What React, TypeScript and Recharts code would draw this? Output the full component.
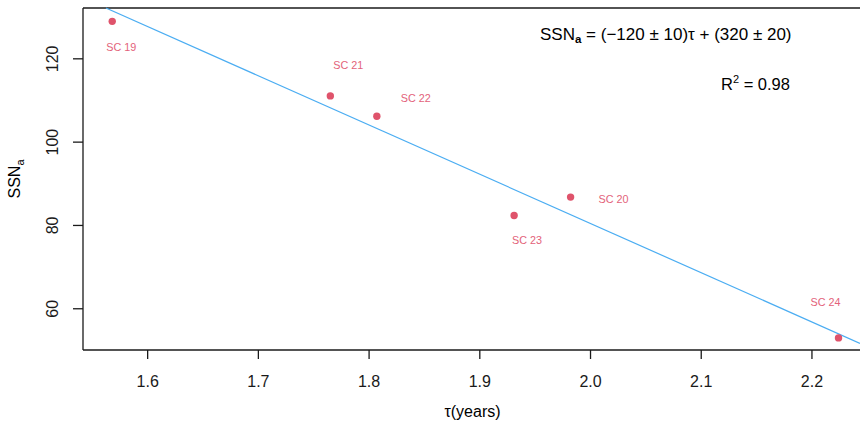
import React from "react";
import {
  ScatterChart,
  Scatter,
  XAxis,
  YAxis,
  ReferenceLine,
} from "recharts";

// solar cycles and their values
const cycles: string[] = ["SC 19", "SC 20", "SC 21", "SC 22", "SC 23", "SC 24"];
const tauYears: number[] = [1.568, 1.982, 1.765, 1.807, 1.931, 2.224];
const ssnA: number[] = [129.0, 86.8, 111.1, 106.2, 82.4, 53.0];

// fitted line end points (where it leaves the plot box)
const fitTau: number[] = [1.5623, 2.2434];
const fitSsn: number[] = [132.2, 51.7];

const xTicks: number[] = [1.6, 1.7, 1.8, 1.9, 2.0, 2.1, 2.2];
const yTicks: number[] = [60, 80, 100, 120];

const X_DOMAIN: [number, number] = [1.5416, 2.2434];
const Y_DOMAIN: [number, number] = [50.1, 132.2];

const points = cycles.map((name, i) => ({ name, tau: tauYears[i], ssn: ssnA[i] }));

// where each cycle label sits relative to its point (px)
const labelOffset: { [k: string]: [number, number] } = {
  "SC 19": [9, 26],
  "SC 20": [43, 2],
  "SC 21": [18, -31],
  "SC 22": [39, -18],
  "SC 23": [13, 25],
  "SC 24": [-13, -36],
};

const FONT = "'Liberation Sans', Arial, Helvetica, sans-serif";
const POINT = "#DF536B";
const LABEL = "#E3627A";
const LINE = "#4BADF2";
const AXIS = "#1a1a1a";

const PointShape = (props: any) => {
  const { cx, cy, payload } = props;
  const [dx, dy] = labelOffset[payload.name] || [0, 0];
  return (
    <g>
      <circle cx={cx} cy={cy} r={3.7} fill={POINT} />
      <text
        x={cx + dx}
        y={cy + dy}
        textAnchor="middle"
        dominantBaseline="central"
        fontSize={10.8}
        fontFamily={FONT}
        fill={LABEL}
      >
        {payload.name}
      </text>
    </g>
  );
};

const YTick = (props: any) => {
  const { y, payload } = props;
  return (
    <text
      x={58.5}
      y={y}
      transform={`rotate(-90, 58.5, ${y})`}
      textAnchor="middle"
      fontSize={16}
      fontFamily={FONT}
      fill={AXIS}
    >
      {payload.value}
    </text>
  );
};

const App: React.FC = () => {
  return (
    <div style={styles.wrap}>
      <ScatterChart
        width={860}
        height={425}
        margin={{ top: 8, right: 0, left: 0, bottom: 0 }}
      >
        <XAxis
          type="number"
          dataKey="tau"
          domain={X_DOMAIN}
          ticks={xTicks}
          allowDataOverflow
          tickFormatter={(v: number) => v.toFixed(1)}
          height={75}
          tickSize={9}
          tickMargin={17}
          axisLine={{ stroke: AXIS, strokeWidth: 1.3 }}
          tickLine={{ stroke: AXIS, strokeWidth: 1.3 }}
          tick={{ fontSize: 16, fontFamily: FONT, fill: AXIS }}
        />
        <YAxis
          type="number"
          dataKey="ssn"
          domain={Y_DOMAIN}
          ticks={yTicks}
          allowDataOverflow
          width={83}
          tickSize={10}
          axisLine={{ stroke: AXIS, strokeWidth: 1.3 }}
          tickLine={{ stroke: AXIS, strokeWidth: 1.3 }}
          tick={<YTick />}
        />
        <ReferenceLine y={Y_DOMAIN[1]} stroke={AXIS} strokeWidth={1.3} />
        <ReferenceLine
          segment={[
            { x: fitTau[0], y: fitSsn[0] },
            { x: fitTau[1], y: fitSsn[1] },
          ]}
          stroke={LINE}
          strokeWidth={1.2}
        />
        <Scatter data={points} shape={<PointShape />} isAnimationActive={false} />
      </ScatterChart>

      <svg width={860} height={425} style={styles.overlay}>
        <text x={540} y={40} fontSize={17} fontFamily={FONT} fill="#000">
          SSN
          <tspan fontSize={11.5} dy={3} fontWeight="bold">a</tspan>
          <tspan dy={-3}>{" = (\u2212120 \u00b1 10)\u03c4 + (320 \u00b1 20)"}</tspan>
        </text>
        <text x={721} y={90} fontSize={16.5} fontFamily={FONT} fill="#000">
          R
          <tspan fontSize={11} dy={-7}>2</tspan>
          <tspan dy={7}>{" = 0.98"}</tspan>
        </text>
        <text
          x={472.5}
          y={417}
          textAnchor="middle"
          fontSize={16}
          fontFamily={FONT}
          fill="#000"
        >
          {"\u03c4(years)"}
        </text>
        <text
          x={20}
          y={179}
          transform="rotate(-90, 20, 179)"
          textAnchor="middle"
          fontSize={16}
          fontFamily={FONT}
          fill="#000"
        >
          SSN
          <tspan fontSize={11} dy={4}>a</tspan>
        </text>
      </svg>
    </div>
  );
};

const styles: { [key: string]: React.CSSProperties } = {
  wrap: {
    position: "absolute",
    left: 0,
    top: 0,
    width: 860,
    height: 425,
    background: "#fff",
  },
  overlay: {
    position: "absolute",
    left: 0,
    top: 0,
    pointerEvents: "none",
  },
};

export default App;
